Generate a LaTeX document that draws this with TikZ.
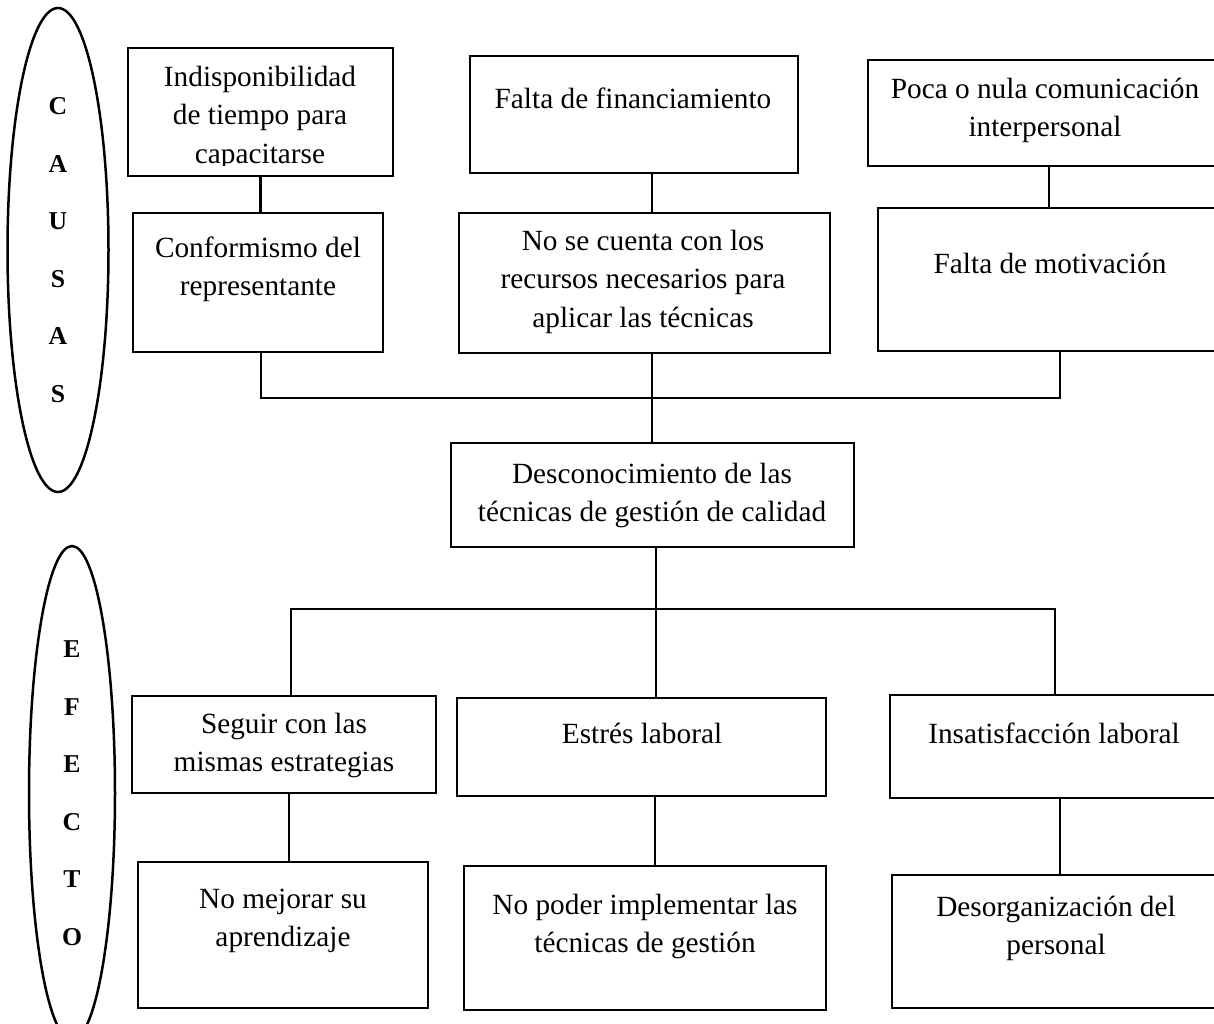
\documentclass[tikz,border=0pt]{standalone}
\usepackage{fontspec}
\setmainfont{Liberation Serif}
\usetikzlibrary{shapes.geometric}
\begin{document}
\begin{tikzpicture}[x=1pt,y=-1pt,
 box/.style={draw, rectangle, inner sep=0pt, line width=2.5pt},
 txt/.style={font=\fontsize{29.3}{38.5}\selectfont, align=center, inner sep=0pt, anchor=north},
 oval/.style={draw, ellipse, inner sep=0pt, line width=2.5pt, font=\fontsize{25.7}{57.5}\selectfont\bfseries, align=center},
 wire/.style={line width=2.5pt}]
\useasboundingbox (0,0) rectangle (1214,1023);

% side ovals
\node[oval, minimum width=101pt, minimum height=484pt] (causas) at (58,250) {C\\A\\U\\S\\A\\S};
\node[oval, minimum width=86pt, minimum height=494pt] (efecto) at (72,793) {E\\F\\E\\C\\T\\O};

% boxes (causes)
\node[box, minimum width=265pt, minimum height=128pt] (b1) at (260.5,112) {};
\node[box, minimum width=250pt, minimum height=139pt] (b2) at (258,282.5) {};
\node[box, minimum width=328pt, minimum height=117pt] (b3) at (634,114.5) {};
\node[box, minimum width=371pt, minimum height=140pt] (b4) at (644.5,283) {};
\node[box, minimum width=354pt, minimum height=106pt] (b5) at (1045,113) {};
\node[box, minimum width=344pt, minimum height=143pt] (b6) at (1050,279.5) {};
% central problem
\node[box, minimum width=403pt, minimum height=104pt] (b7) at (652.5,495) {};
% effects
\node[box, minimum width=304pt, minimum height=97pt] (b8) at (284,744.5) {};
\node[box, minimum width=290pt, minimum height=146pt] (b9) at (283,935) {};
\node[box, minimum width=369pt, minimum height=98pt] (b10) at (641.5,747) {};
\node[box, minimum width=362pt, minimum height=144pt] (b11) at (645,938) {};
\node[box, minimum width=332pt, minimum height=103pt] (b12) at (1056,746.5) {};
\node[box, minimum width=330pt, minimum height=133pt] (b13) at (1057,941.5) {};

% texts
\begin{scope}
\clip (128,48) rectangle (393,165);
\node[txt] (t1) at (260,59) {\strut Indisponibilidad\\de tiempo para\\capacitarse};
\end{scope}
\node[txt] (t2) at (258,230) {\strut Conformismo del\\representante};
\node[txt] (t3) at (633,81) {\strut Falta de financiamiento};
\node[txt] (t4) at (643,223) {\strut No se cuenta con los\\recursos necesarios para\\aplicar las técnicas};
\node[txt] (t5) at (1045,71) {\strut Poca o nula comunicación\\interpersonal};
\node[txt] (t6) at (1050,246) {\strut Falta de motivación};
\node[txt] (t7) at (652,456) {\strut Desconocimiento de las\\técnicas de gestión de calidad};
\node[txt] (t8) at (284,706) {\strut Seguir con las\\mismas estrategias};
\node[txt] (t9) at (283,881) {\strut No mejorar su\\aprendizaje};
\node[txt] (t10) at (642,716) {\strut Estrés laboral};
\node[txt] (t11) at (645,887) {\strut No poder implementar las\\técnicas de gestión};
\node[txt] (t12) at (1054,716) {\strut Insatisfacción laboral};
\node[txt] (t13) at (1056,889) {\strut Desorganización del\\personal};

% guide coordinates
\coordinate (cA) at (652,0);
\coordinate (cB) at (1049,0);
\coordinate (cC) at (261,0);
\coordinate (cD) at (1060,0);
\coordinate (cE) at (291,0);
\coordinate (cF) at (656,0);
\coordinate (cG) at (1055,0);
\coordinate (cH) at (289,0);
\coordinate (cI) at (655,0);
\coordinate (cJ) at (1060,0);
\coordinate (busU) at (0,398);
\coordinate (busL) at (0,609);

% connectors
\draw[wire] (b1.south) -- (b1.south |- b2.north);
\draw[wire] (b3.south -| cA) -- (b4.north -| cA);
\draw[wire] (b5.south -| cB) -- (b6.north -| cB);
\draw[wire] (b2.south -| cC) -- (busU -| cC) -- (busU -| cD) -- (b6.south -| cD);
\draw[wire] (b4.south -| cA) -- (b7.north -| cA);
\draw[wire] (b8.north -| cE) -- (busL -| cE) -- (busL -| cG) -- (b12.north -| cG);
\draw[wire] (b7.south -| cF) -- (b10.north -| cF);
\draw[wire] (b8.south -| cH) -- (b9.north -| cH);
\draw[wire] (b10.south -| cI) -- (b11.north -| cI);
\draw[wire] (b12.south -| cJ) -- (b13.north -| cJ);
\end{tikzpicture}
\end{document}
